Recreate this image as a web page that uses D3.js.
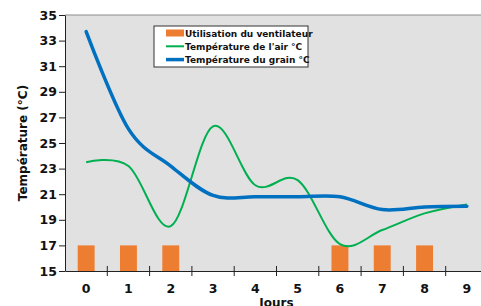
<!DOCTYPE html>
<html>
<head>
<meta charset="utf-8">
<script src="https://cdn.jsdelivr.net/npm/d3@7"></script>
<style>
  body { margin: 0; background: #fff; }
  text { font-family: "DejaVu Sans", Verdana, sans-serif; font-weight: bold; }
</style>
</head>
<body>
<div id="chart"></div>
<script>
// jours (categories)
const days = [0, 1, 2, 3, 4, 5, 6, 7, 8, 9];
// utilisation du ventilateur : valeur 17 quand le ventilateur tourne, null sinon
const fanUse = [17, 17, 17, null, null, null, 17, 17, 17, null];
// température de l'air °C
const airTemp = [23.5, 23.2, 18.5, 26.3, 21.7, 22.1, 17.1, 18.2, 19.5, 20.2];
// température du grain °C
const grainTemp = [33.7, 26.1, 23.2, 20.9, 20.8, 20.8, 20.8, 19.8, 20.0, 20.05];
const yTicks = [15, 17, 19, 21, 23, 25, 27, 29, 31, 33, 35];

const legendItems = [
  { label: "Utilisation du ventilateur", type: "bar", color: "#ED7D31" },
  { label: "Température de l'air °C", type: "line", color: "#00B050", w: 2 },
  { label: "Température du grain °C", type: "line", color: "#0070C0", w: 3.5 }
];

const W = 481, H = 306;
const margin = { top: 15, left: 65, right: -7, bottom: 35 };
const plotW = W - margin.left - margin.right,
      plotH = H - margin.top - margin.bottom;

const svg = d3.select("#chart").append("svg")
  .attr("width", W).attr("height", H);

const g = svg.append("g")
  .attr("transform", "translate(" + margin.left + "," + margin.top + ")");

const x = d3.scaleBand().domain(days).range([0, plotW]).padding(0);
const y = d3.scaleLinear().domain([15, 35]).range([plotH, 0]);
const cx = d => x(d) + x.bandwidth() / 2;

// fond de la zone de tracé
g.append("rect")
  .attr("width", plotW).attr("height", plotH)
  .attr("fill", "#e1e1e1");
g.append("line")
  .attr("x1", 0).attr("x2", plotW).attr("y1", 0).attr("y2", 0)
  .attr("stroke", "#8c8c8c").attr("stroke-width", 1);

// barres du ventilateur
const barW = x.bandwidth() * 0.4;
g.selectAll(".bar")
  .data(days.filter((d, i) => fanUse[i] != null))
  .enter().append("rect")
  .attr("class", "bar")
  .attr("x", d => cx(d) - barW / 2)
  .attr("y", d => y(fanUse[d]))
  .attr("width", barW)
  .attr("height", d => y(15) - y(fanUse[d]))
  .attr("fill", "#ED7D31");

const line = arr => d3.line()
  .x((d, i) => cx(days[i]))
  .y(d => y(d))
  .curve(d3.curveCardinal.tension(0))(arr);

g.append("path")
  .attr("d", line(airTemp))
  .attr("fill", "none").attr("stroke", "#00B050").attr("stroke-width", 2);

g.append("path")
  .attr("d", line(grainTemp))
  .attr("fill", "none").attr("stroke", "#0070C0").attr("stroke-width", 3.5)
  .attr("stroke-linecap", "round");

// axe Y
const yAxis = g.append("g")
  .call(d3.axisLeft(y).tickValues(yTicks).tickSize(6).tickSizeOuter(0).tickPadding(2));
yAxis.select(".domain").attr("stroke", "#222");
yAxis.selectAll(".tick line").attr("stroke", "#222");
yAxis.selectAll("text").attr("font-size", 12.5).attr("fill", "#111");

// axe X : étiquettes au centre des catégories, graduations aux limites
const xAxis = g.append("g")
  .attr("transform", "translate(0," + plotH + ")")
  .call(d3.axisBottom(x).tickSize(0).tickPadding(13));
xAxis.select(".domain").attr("stroke", "#222");
xAxis.selectAll("text").attr("font-size", 12.5).attr("fill", "#111");
xAxis.selectAll(".bound")
  .data(days.slice(1))
  .enter().append("line")
  .attr("class", "bound")
  .attr("x1", d => x(d)).attr("x2", d => x(d))
  .attr("y1", -5).attr("y2", 5)
  .attr("stroke", "#222");

// titres des axes
svg.append("text")
  .attr("transform", "translate(27," + (margin.top + plotH / 2) + ") rotate(-90)")
  .attr("text-anchor", "middle")
  .attr("font-size", 12)
  .attr("fill", "#111")
  .text("Température (°C)");

svg.append("text")
  .attr("x", margin.left + plotW / 2)
  .attr("y", 307)
  .attr("text-anchor", "middle")
  .attr("font-size", 12)
  .attr("fill", "#111")
  .text("Jours");

// légende
const leg = svg.append("g").attr("transform", "translate(154,26)");
leg.append("rect")
  .attr("width", 154).attr("height", 41)
  .attr("fill", "#fff").attr("stroke", "#333").attr("stroke-width", 1);
const row = leg.selectAll(".item").data(legendItems).enter().append("g")
  .attr("transform", (d, i) => "translate(0," + (7 + i * 13.3) + ")");
row.filter(d => d.type === "bar").append("rect")
  .attr("x", 12).attr("y", -3.5).attr("width", 18).attr("height", 7)
  .attr("fill", d => d.color);
row.filter(d => d.type === "line").append("line")
  .attr("x1", 12).attr("x2", 30).attr("y1", 0).attr("y2", 0)
  .attr("stroke", d => d.color).attr("stroke-width", d => d.w);
row.append("text")
  .attr("x", 31).attr("y", 3.5)
  .attr("font-family", "'Liberation Sans', Arial, sans-serif")
  .attr("font-size", 9)
  .attr("fill", "#111")
  .text(d => d.label);
</script>
</body>
</html>
